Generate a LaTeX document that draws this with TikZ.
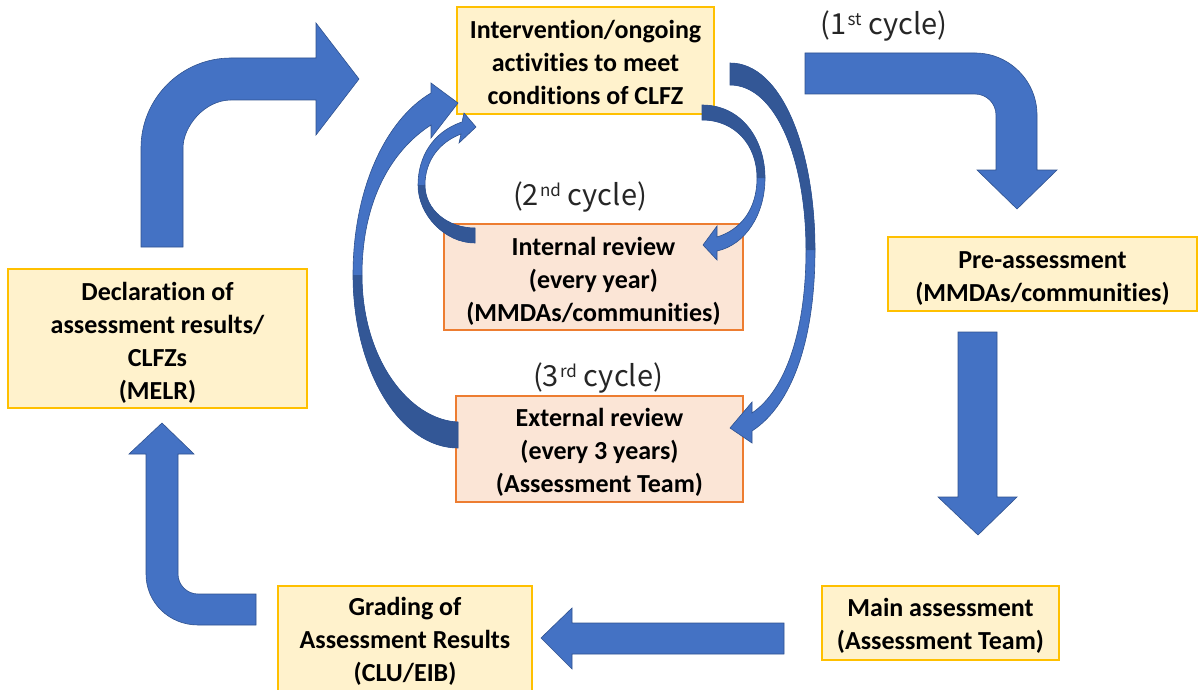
\documentclass[tikz,border=0pt]{standalone}
\usepackage{fontspec}
\setmainfont{Carlito}[Ligatures=NoCommon]
\newfontfamily\cyclefont{Noto Sans CJK JP}
\definecolor{arrowblue}{HTML}{4472C4}
\definecolor{arrowdark}{HTML}{335796}
\definecolor{arrowline}{HTML}{2F528F}
\definecolor{yfill}{HTML}{FFF2CC}
\definecolor{yline}{HTML}{FFC000}
\definecolor{ofill}{HTML}{FBE5D6}
\definecolor{oline}{HTML}{ED7D31}
\definecolor{labelgray}{HTML}{262626}
\newcommand\supx[1]{\hspace{1pt}\raisebox{0.6ex}{\fontsize{17}{17}\selectfont #1}\hspace{7pt}}
\begin{document}
\begin{tikzpicture}[x=1pt,y=-1pt,
  box/.style={rectangle, line width=1.5pt, inner sep=0pt},
  ybox/.style={box, fill=yfill, draw=yline},
  obox/.style={box, fill=ofill, draw=oline},
  boxtext/.style={align=center, inner sep=0pt, font=\fontsize{26}{33}\selectfont\bfseries},
  blockarrow/.style={fill=arrowblue, draw=arrowline, line width=0.6pt, line join=miter},
  arrowfill/.style={fill=arrowblue},
  arrowshade/.style={fill=arrowdark},
  arrowedge/.style={draw=arrowline, line width=0.6pt, line join=miter},
  cyclelabel/.style={font=\cyclefont\fontsize{29}{32}\selectfont, inner sep=0pt, text=labelgray}]
\useasboundingbox (0,0) rectangle (1199,690);

% boxes
\node[ybox, minimum width=257, minimum height=107] (top) at (585.5,60.5) {};
\node[boxtext] (toptext) at ([yshift=-2pt]top.center)
  {Intervention/ongoing\\activities to meet\\conditions of CLFZ};
\node[obox, minimum width=299, minimum height=106] (int) at (593.5,277) {};
\node[boxtext] (inttext) at ([yshift=-4pt]int.center)
  {Internal review\\(every year)\\(MMDAs/communities)};
\node[obox, minimum width=287, minimum height=106] (ext) at (599.5,449) {};
\node[boxtext] (exttext) at ([yshift=-3pt]ext.center)
  {External review\\(every 3 years)\\(Assessment Team)};
\node[ybox, minimum width=309, minimum height=74] (pre) at (1042.5,274) {};
\node[boxtext] (pretext) at ([yshift=-5pt]pre.center)
  {Pre-assessment\\(MMDAs/communities)};
\node[ybox, minimum width=237, minimum height=74] (main) at (940.5,623) {};
\node[boxtext] (maintext) at ([yshift=-3pt]main.center)
  {Main assessment\\(Assessment Team)};
\node[ybox, minimum width=254, minimum height=106] (grad) at (405,639) {};
\node[boxtext] (gradtext) at ([yshift=-2pt]grad.center)
  {Grading of\\Assessment Results\\(CLU/EIB)};
\node[ybox, minimum width=299, minimum height=139] (decl) at (157.5,338.5) {};
\node[boxtext] (decltext) at ([yshift=-4pt]decl.center)
  {Declaration of\\assessment results/\\CLFZs\\(MELR)};

% cycle labels
\node[cyclelabel] (c1) at (884,26) {(1\supx{st}cycle)};
\node[cyclelabel] (c2) at (580,197) {(2\supx{nd}cycle)};
\node[cyclelabel] (c3) at (598,378) {(3\supx{rd}cycle)};

% bent arrow top-left
\draw[blockarrow] (141,247) -- (141,148) .. controls (141,98.3) and (181.3,58) .. (231,58)
  -- (316,58) -- (316,23) -- (359,79) -- (316,135) -- (316,100) -- (231,100)
  .. controls (204.5,100) and (183,126.5) .. (183,148) -- (183,247) -- cycle;
% bent arrow top-right
\draw[blockarrow] (805,53) -- (975,53) .. controls (1009.2,53) and (1037,80.8) .. (1037,115)
  -- (1037,170) -- (1057,170) -- (1017,209) -- (977,170) -- (996,170) -- (996,115)
  .. controls (996,103.4) and (986.6,94) .. (975,94) -- (805,94) -- cycle;
% straight down arrow
\draw[blockarrow] (958,332) -- (997,332) -- (997,497) -- (1017,497) -- (978,535)
  -- (938,497) -- (958,497) -- cycle;
% straight left arrow
\draw[blockarrow] (784,623) -- (784,654) -- (572,654) -- (572,669) -- (541,638)
  -- (572,608) -- (572,623) -- cycle;
% bent arrow bottom-left
\draw[blockarrow] (256,594) -- (198,594) .. controls (187,594) and (178,585) .. (178,574)
  -- (178,454) -- (194,454) -- (162,423) -- (129,454) -- (146,454) -- (146,574)
  .. controls (146,602.7) and (169.3,625) .. (198,625) -- (256,625) -- cycle;

% curved arrow A (external review -> intervention)
\def\pathA{(431,93) .. controls (385,120) and (353,190) .. (353,275)
  .. controls (353,370) and (400,448) .. (458,448) -- (458,422)
  .. controls (410,420) and (362,360) .. (362,275)
  .. controls (362,200) and (392,150) .. (431,125) -- (431,138) -- (458,103) -- (431,83) -- cycle}
\fill[arrowfill] \pathA;
\fill[arrowshade] (353,275) .. controls (353,370) and (400,448) .. (458,448) -- (458,422)
  .. controls (410,420) and (362,360) .. (362,275) -- cycle;
\draw[arrowedge] \pathA;

% curved arrow B (internal review -> intervention)
\def\pathB{(462,122) .. controls (432,132) and (418,158) .. (418,185)
  .. controls (418,215) and (445,243) .. (475,243) -- (475,228)
  .. controls (448,228) and (425,210) .. (425,185)
  .. controls (425,160) and (440,142) .. (461,134) -- (459,143) -- (476,127) -- (464,113) -- cycle}
\fill[arrowfill] \pathB;
\fill[arrowshade] (418,185) .. controls (418,215) and (445,243) .. (475,243) -- (475,228)
  .. controls (448,228) and (425,210) .. (425,185) -- cycle;
\draw[arrowedge] \pathB;

% curved arrow C (intervention -> internal review)
\def\pathC{(702,105) .. controls (742,105) and (765,140) .. (765,178)
  .. controls (765,215) and (745,245) .. (717,251) -- (717,260) -- (703,245) -- (717,226)
  -- (717,237) .. controls (740,230) and (757,210) .. (757,178)
  .. controls (757,145) and (735,120) .. (702,120) -- cycle}
\fill[arrowfill] \pathC;
\fill[arrowshade] (702,105) .. controls (742,105) and (765,140) .. (765,178) -- (757,178)
  .. controls (757,145) and (735,120) .. (702,120) -- cycle;
\draw[arrowedge] \pathC;

% curved arrow D (intervention -> external review)
\def\pathD{(730,63) .. controls (782,63) and (815,150) .. (815,250)
  .. controls (815,340) and (792,405) .. (752,431) -- (752,443) -- (730,428) -- (752,402)
  -- (752,413) .. controls (786,390) and (806,330) .. (806,250)
  .. controls (806,160) and (776,85) .. (730,85) -- cycle}
\fill[arrowfill] \pathD;
\fill[arrowshade] (730,63) .. controls (782,63) and (815,150) .. (815,250) -- (806,250)
  .. controls (806,160) and (776,85) .. (730,85) -- cycle;
\draw[arrowedge] \pathD;
\end{tikzpicture}
\end{document}
